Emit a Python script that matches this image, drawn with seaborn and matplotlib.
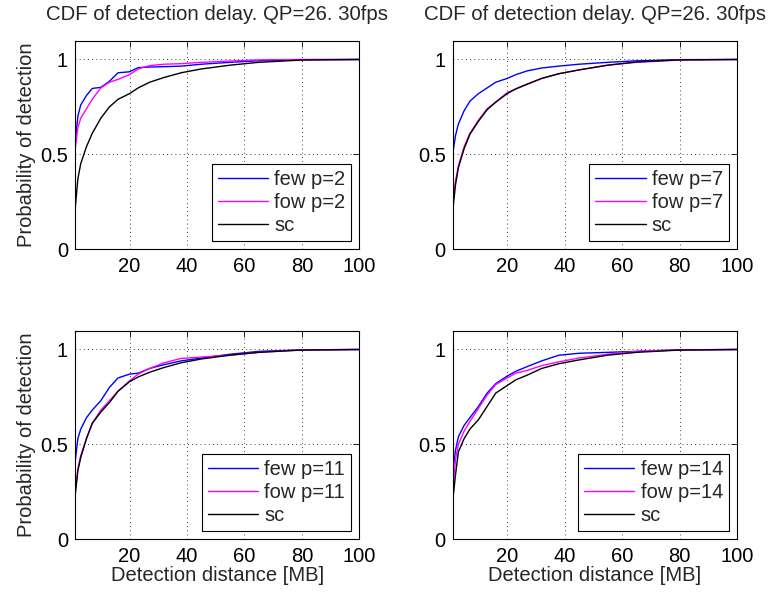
import matplotlib
matplotlib.use("Agg")
import numpy as np
import pandas as pd
import matplotlib.pyplot as plt
import seaborn as sns

# detection distance grid [MB]
x = [1, 2, 3, 5, 7, 10, 13, 16, 20, 23, 27, 32, 38, 45, 55, 65, 80, 100]

# p=2
few_2 = [0.55, 0.70, 0.76, 0.81, 0.847, 0.853, 0.885, 0.93, 0.935, 0.957, 0.96, 0.962, 0.965, 0.975, 0.985, 0.993, 0.999, 1.0]
fow_2 = [0.52, 0.64, 0.69, 0.74, 0.79, 0.85, 0.88, 0.895, 0.92, 0.95, 0.968, 0.975, 0.978, 0.985, 0.992, 0.998, 1.0, 1.0]
sc_2 = [0.20, 0.37, 0.45, 0.54, 0.61, 0.69, 0.75, 0.79, 0.82, 0.85, 0.88, 0.905, 0.93, 0.95, 0.97, 0.985, 0.997, 1.0]

# p=7
few_7 = [0.50, 0.60, 0.66, 0.73, 0.78, 0.82, 0.85, 0.88, 0.90, 0.92, 0.94, 0.955, 0.965, 0.975, 0.985, 0.993, 0.999, 1.0]
fow_7 = [0.24, 0.36, 0.44, 0.54, 0.61, 0.68, 0.74, 0.775, 0.825, 0.845, 0.87, 0.90, 0.925, 0.945, 0.97, 0.985, 0.997, 1.0]
sc_7 = [0.20, 0.34, 0.43, 0.53, 0.605, 0.675, 0.735, 0.775, 0.82, 0.845, 0.87, 0.90, 0.925, 0.945, 0.97, 0.987, 0.998, 1.0]

# p=11
few_11 = [0.40, 0.53, 0.58, 0.64, 0.68, 0.73, 0.80, 0.85, 0.87, 0.875, 0.90, 0.92, 0.94, 0.955, 0.975, 0.99, 0.998, 1.0]
fow_11 = [0.24, 0.37, 0.44, 0.53, 0.61, 0.68, 0.73, 0.78, 0.835, 0.87, 0.90, 0.93, 0.953, 0.96, 0.97, 0.985, 0.998, 1.0]
sc_11 = [0.22, 0.36, 0.43, 0.53, 0.61, 0.67, 0.72, 0.78, 0.83, 0.855, 0.88, 0.905, 0.93, 0.95, 0.97, 0.985, 0.997, 1.0]

# p=14
few_14 = [0.35, 0.47, 0.54, 0.60, 0.64, 0.70, 0.77, 0.82, 0.86, 0.885, 0.91, 0.94, 0.97, 0.98, 0.985, 0.99, 0.998, 1.0]
fow_14 = [0.26, 0.42, 0.50, 0.57, 0.62, 0.69, 0.76, 0.815, 0.85, 0.875, 0.89, 0.915, 0.935, 0.955, 0.975, 0.99, 0.998, 1.0]
sc_14 = [0.20, 0.34, 0.46, 0.53, 0.58, 0.63, 0.70, 0.77, 0.81, 0.84, 0.865, 0.90, 0.925, 0.945, 0.97, 0.985, 0.997, 1.0]

panels = [
    (2, few_2, fow_2, sc_2),
    (7, few_7, fow_7, sc_7),
    (11, few_11, fow_11, sc_11),
    (14, few_14, fow_14, sc_14),
]

title = "CDF of detection delay. QP=26. 30fps"

sns.set_theme(style="white")
plt.rcParams['font.family'] = ['Liberation Sans', 'DejaVu Sans']

fig = plt.figure(figsize=(7.73, 5.96), dpi=100)

positions = [
    [0.097, 0.5822, 0.3678, 0.3498],
    [0.5856, 0.5822, 0.3678, 0.3498],
    [0.097, 0.0956, 0.3678, 0.3498],
    [0.5856, 0.0956, 0.3678, 0.3498],
]

fs = 14.5
for i, (p, few, fow, sc) in enumerate(panels):
    ax = fig.add_axes(positions[i])
    names = [f"few p={p}", f"fow p={p}", "sc"]
    df = pd.DataFrame({
        "x": x * 3,
        "y": few + fow + sc,
        "series": [names[0]] * len(x) + [names[1]] * len(x) + [names[2]] * len(x),
    })
    sns.lineplot(data=df, x="x", y="y", hue="series", hue_order=names,
                 palette=["#0000ff", "#ff00ff", "#000000"], linewidth=1.0,
                 ax=ax, legend=False)
    ax.set_xlim(1, 100)
    ax.set_ylim(0, 1.1)
    ax.set_xticks([20, 40, 60, 80, 100])
    ax.set_yticks([0, 0.5, 1])
    ax.set_yticklabels(["0", "0.5", "1"])
    ax.grid(True, linestyle=(0, (1, 4)), color="black", linewidth=0.6)
    ax.tick_params(direction="in", top=True, right=True, length=4, width=0.6,
                   labelsize=fs, colors="black")
    ax.tick_params(axis="x", pad=6)
    ax.tick_params(axis="y", pad=5)
    for s in ax.spines.values():
        s.set_color("black")
        s.set_linewidth(0.8)
    ax.set_xlabel("")
    ax.set_ylabel("")
    if i < 2:
        ax.set_title(title, fontsize=14.7, pad=15)
    else:
        ax.set_xlabel("Detection distance [MB]", fontsize=fs, labelpad=0)
    if i % 2 == 0:
        ax.set_ylabel("Probability of detection", fontsize=fs, labelpad=3)
    leg = ax.legend(ax.get_lines()[:3], names, loc="lower right", fontsize=fs,
                    handlelength=2.5, labelspacing=0.2, borderpad=0.3,
                    handletextpad=0.3, borderaxespad=0.4, fancybox=False,
                    framealpha=1, edgecolor="black")
    leg.get_frame().set_linewidth(0.8)

fig.savefig("out.png", dpi=100)
